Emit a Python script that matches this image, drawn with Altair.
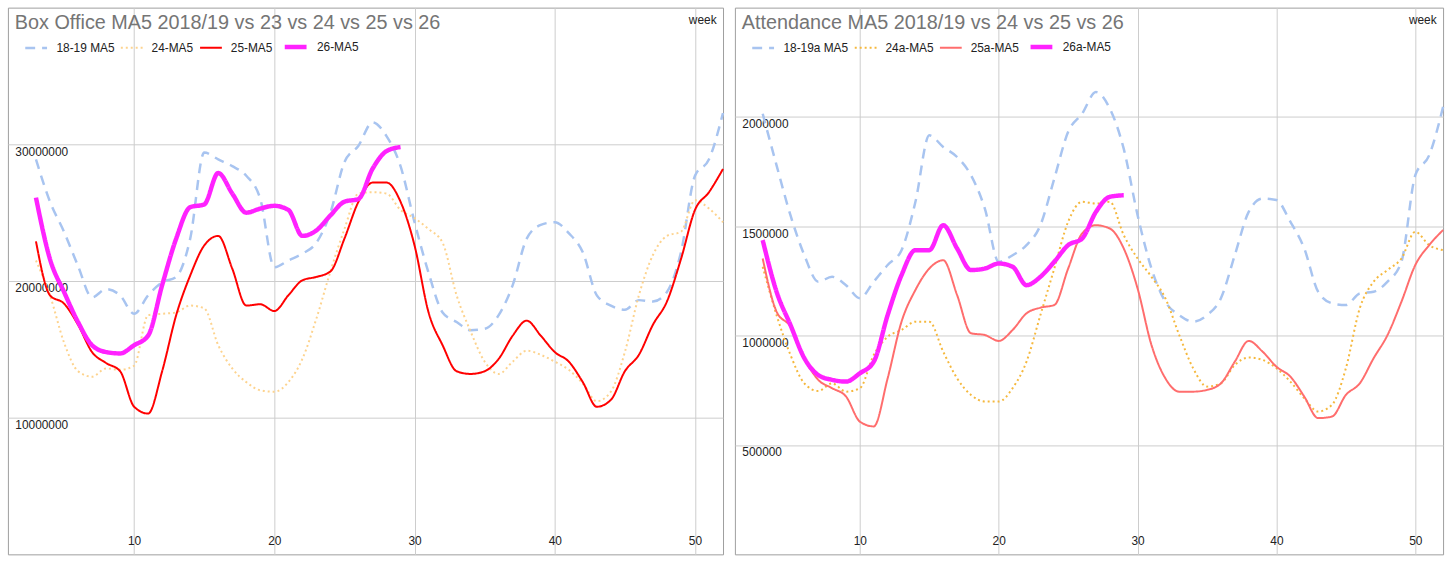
import altair as alt
import pandas as pd

# Weekly 5-week moving averages; the current season (26) runs to week 29.
weeks_full = list(range(3, 53))
weeks_26 = list(range(3, 30))

# ---- Box office (millions) ----
bo_names = ["18-19 MA5", "24-MA5", "25-MA5", "26-MA5"]
bo_1819_m = [28.9, 25.8, 23.6, 21.1, 18.8, 19.4, 18.95, 17.6, 18.95, 19.9,
             20.3, 23.1, 29.4, 28.9, 28.4, 27.7, 26.0, 21.0, 21.5, 22.0,
             22.8, 25.0, 28.7, 29.9, 31.6, 30.6, 28.4, 24.3, 20.6, 17.7,
             17.0, 16.4, 16.5, 17.5, 19.7, 23.1, 24.1, 24.3, 23.5, 22.1,
             18.95, 18.2, 17.9, 18.6, 18.5, 19.2, 22.1, 27.7, 28.9, 32.3]
bo_24_m = [21.5, 18.95, 15.5, 13.4, 13.0, 13.6, 13.5, 13.8, 17.5, 17.6,
           17.7, 18.2, 18.0, 15.3, 13.6, 12.6, 12.0, 11.9, 12.6, 14.3,
           17.25, 20.7, 23.8, 26.4, 26.5, 26.4, 25.2, 24.6, 23.8, 22.8,
           18.95, 16.3, 14.1, 13.2, 14.1, 14.9, 14.6, 14.1, 13.5, 12.5,
           11.2, 11.9, 14.8, 18.95, 21.9, 23.3, 23.6, 25.9, 25.3, 24.3]
bo_25_m = [22.9, 18.95, 18.35, 16.8, 14.8, 14.0, 13.4, 10.8, 10.3, 13.4,
           17.5, 20.4, 22.6, 23.3, 20.9, 18.2, 18.3, 17.8, 18.95, 20.05,
           20.3, 20.7, 23.1, 25.8, 27.2, 27.2, 25.8, 22.6, 17.7, 15.3,
           13.4, 13.2, 13.4, 14.3, 16.0, 17.1, 16.0, 14.8, 14.1, 12.6,
           10.8, 11.3, 13.4, 14.6, 16.8, 18.5, 21.6, 25.2, 26.5, 28.2]
bo_26_m = [26.1, 21.6, 19.2, 17.0, 15.3, 14.8, 14.7, 15.3, 16.0, 19.7,
           23.1, 25.4, 25.6, 27.9, 26.4, 25.0, 25.3, 25.5, 25.2, 23.3,
           23.7, 24.8, 25.8, 26.0, 28.2, 29.5, 29.8]

# ---- Attendance (thousands) ----
at_names = ["18-19a MA5", "24a-MA5", "25a-MA5", "26a-MA5"]
at_1819_k = [2015, 1779, 1551, 1368, 1247, 1269, 1231, 1171, 1247, 1323,
             1391, 1612, 1916, 1863, 1817, 1734, 1581, 1338, 1368, 1414,
             1505, 1718, 1932, 2015, 2114, 2038, 1855, 1551, 1307, 1155,
             1094, 1064, 1094, 1171, 1368, 1566, 1627, 1620, 1521, 1399,
             1201, 1148, 1140, 1193, 1201, 1247, 1338, 1734, 1825, 2046]
at_24_k = [1315, 1094, 912, 782, 747, 782, 744, 760, 912, 995,
           1026, 1064, 1064, 927, 805, 729, 699, 699, 760, 881,
           1094, 1307, 1521, 1612, 1604, 1612, 1460, 1353, 1269, 1171,
           1003, 851, 767, 782, 866, 900, 889, 851, 790, 714,
           653, 684, 851, 1125, 1247, 1300, 1353, 1475, 1414, 1391]
at_25_k = [1353, 1110, 1041, 897, 798, 760, 722, 607, 585, 805,
           1064, 1209, 1307, 1345, 1186, 1011, 1003, 976, 1026, 1102,
           1128, 1140, 1307, 1467, 1505, 1490, 1399, 1216, 957, 805,
           744, 744, 752, 782, 881, 976, 927, 858, 813, 722,
           623, 630, 729, 782, 897, 1003, 1155, 1323, 1414, 1483]
at_26_k = [1437, 1201, 1049, 897, 820, 798, 790, 828, 881, 1094,
           1277, 1391, 1391, 1505, 1399, 1300, 1307, 1330, 1315, 1231,
           1269, 1338, 1414, 1444, 1566, 1635, 1642]

FONT = "Liberation Sans"


def long_table(names, columns, unit):
    rows = []
    for name, (wks, vals) in zip(names, columns):
        for w, v in zip(wks, vals):
            rows.append({"week": w, "series": name, "value": v * unit})
    return pd.DataFrame(rows)


def panel(table, names, colors, dashes, widths, heading, y_top, y_ticks, w, h):
    legend = alt.Legend(
        orient="none", legendX=16, legendY=26, direction="horizontal", title=None,
        symbolType="stroke", symbolSize=484, labelFontSize=12, labelFont=FONT,
        labelColor="#222222", labelOffset=8, columnPadding=2,
    )
    lines = alt.Chart(table).mark_line(interpolate="monotone").encode(
        x=alt.X(
            "week:Q",
            scale=alt.Scale(domain=[1, 52], nice=False, zero=False),
            axis=alt.Axis(
                values=[10, 20, 30, 40, 50], grid=True, gridColor="#cccccc",
                domain=False, ticks=False, tickSize=0, labelPadding=-7,
                labelBaseline="bottom", labelFontSize=12, labelFont=FONT,
                labelColor="#222222", title="week", titleX=w - 7, titleY=16 - h,
                titleAlign="right", titleBaseline="alphabetic",
                titleFontWeight="normal", titleFontSize=12, titleFont=FONT,
                titleColor="#222222",
            ),
        ),
        y=alt.Y(
            "value:Q",
            scale=alt.Scale(domain=[0, y_top], nice=False),
            axis=alt.Axis(
                values=y_ticks, format="d", grid=True, gridColor="#cccccc",
                domain=False, ticks=False, tickSize=0, labelAlign="left",
                labelBaseline="top", labelPadding=-7, labelOffset=2,
                labelFontSize=12, labelFont=FONT, labelColor="#222222",
                title=None,
            ),
        ),
        color=alt.Color("series:N", scale=alt.Scale(domain=names, range=colors), legend=legend),
        strokeDash=alt.StrokeDash("series:N", scale=alt.Scale(domain=names, range=dashes), legend=legend),
        strokeWidth=alt.StrokeWidth(
            "series:N", scale=alt.Scale(type="ordinal", domain=names, range=widths), legend=legend
        ),
    )
    head = alt.Chart(pd.DataFrame({"t": [heading]})).mark_text(
        align="left", baseline="alphabetic", fontSize=20, font=FONT, color="#757575"
    ).encode(text="t:N", x=alt.value(7), y=alt.value(22))
    return alt.layer(lines, head).properties(width=w, height=h)


bo_table = long_table(
    bo_names,
    [(weeks_full, bo_1819_m), (weeks_full, bo_24_m), (weeks_full, bo_25_m), (weeks_26, bo_26_m)],
    1_000_000,
)
at_table = long_table(
    at_names,
    [(weeks_full, at_1819_k), (weeks_full, at_24_k), (weeks_full, at_25_k), (weeks_26, at_26_k)],
    1_000,
)

dash_styles = [[10, 7], [2, 3], [1, 0], [1, 0]]
line_widths = [2.5, 2, 2, 4.5]

left = panel(
    bo_table, bo_names, ["#a8c4f0", "#fdd38e", "#ff0000", "#ff22ff"], dash_styles, line_widths,
    "Box Office MA5 2018/19 vs 23 vs 24 vs 25 vs 26", 40_000_000,
    [10_000_000, 20_000_000, 30_000_000], 722, 552,
)
right = panel(
    at_table, at_names, ["#a8c4f0", "#f5b83d", "#ff6d6d", "#ff22ff"], dash_styles, line_widths,
    "Attendance MA5 2018/19 vs 24 vs 25 vs 26", 2_500_000,
    [500_000, 1_000_000, 1_500_000, 2_000_000], 715, 552,
)

chart = (
    alt.hconcat(left, right, spacing=5)
    .resolve_scale(x="independent", y="independent", color="independent",
                   strokeDash="independent", strokeWidth="independent")
    .resolve_legend(color="independent", strokeDash="independent", strokeWidth="independent")
    .configure(padding={"left": 7, "top": 4, "right": 2, "bottom": 3}, background="white")
    .configure_view(stroke="#9e9e9e", strokeWidth=1)
)

chart.save("out.html", embed_options={"renderer": "svg", "actions": False})
